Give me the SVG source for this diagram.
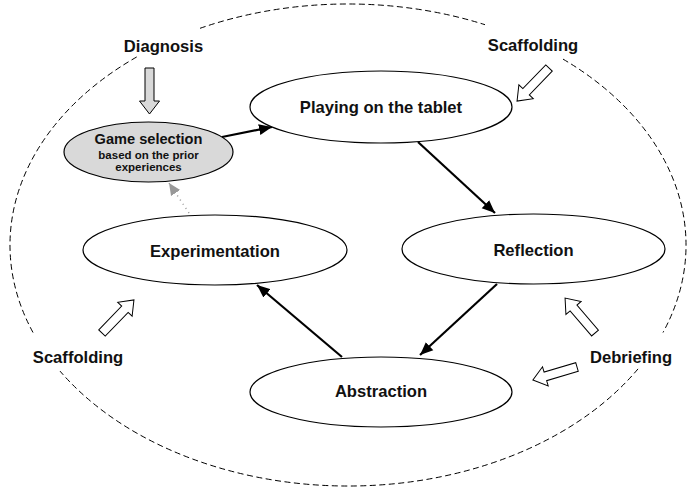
<svg xmlns="http://www.w3.org/2000/svg" xmlns:xlink="http://www.w3.org/1999/xlink" width="688" height="487" viewBox="0 0 688 487">
<style>
  .node { fill: #ffffff; stroke: #000000; stroke-width: 1.2; }
  .grey { fill: #d9d9d9; }
  .t { font-family: "Liberation Sans", Arial, Helvetica, sans-serif; font-weight: bold; fill: #111111; text-anchor: middle; }
  .big { font-size: 16.6px; }
  .lbl { font-size: 16.6px; }
  .conn { stroke: #000000; stroke-width: 2.2; fill: none; marker-end: url(#ah); }
  .dot { stroke: #999999; stroke-width: 1.5; fill: none; stroke-dasharray: 1 4; marker-end: url(#ahg); }
  .outer { fill: none; stroke: #000000; stroke-width: 1; stroke-dasharray: 6 3.5; }
  .blk { stroke: #000000; stroke-width: 1; stroke-linejoin: miter; }
</style>
<defs>
  <marker id="ah" markerUnits="userSpaceOnUse" markerWidth="14" markerHeight="12" refX="13" refY="6" orient="auto">
    <path d="M0,0.5 L13,6 L0,11.5 Z" fill="#000000"/>
  </marker>
  <marker id="ahg" markerUnits="userSpaceOnUse" markerWidth="14" markerHeight="12" refX="12" refY="6" orient="auto">
    <path d="M0,0.5 L12,6 L0,11.5 Z" fill="#999999"/>
  </marker>
  <path id="barrow" d="M0,-4.5 L33,-4.5 L33,-10 L46,0 L33,10 L33,4.5 L0,4.5 Z"/>
</defs>

<g id="outer-boundary">
  <path class="outer" d="M200,28.3 A338,241 0 0 1 485,24.7"/>
  <path class="outer" d="M563,59.1 A338,241 0 0 1 663,332.5"/>
  <path class="outer" d="M638,368.9 A338,241 0 0 1 60,371.1"/>
  <path class="outer" d="M33,332.5 A338,241 0 0 1 137,56.8"/>
</g>

<g id="connectors">
  <line class="conn" x1="222" y1="137" x2="272" y2="127"/>
  <line class="conn" x1="418" y1="142" x2="495" y2="213"/>
  <line class="conn" x1="497" y1="284" x2="420" y2="355"/>
  <line class="conn" x1="342" y1="357" x2="257" y2="285"/>
  <line class="dot" x1="189" y1="213" x2="169" y2="183"/>
</g>

<g id="node-game-selection">
  <ellipse class="node grey" cx="148.5" cy="152" rx="84.5" ry="30"/>
  <text class="t" x="148.5" y="144" font-size="14.6">Game selection</text>
  <text class="t" x="148.5" y="159" font-size="11.5">based on the prior</text>
  <text class="t" x="148.5" y="171" font-size="11.5">experiences</text>
</g>

<g id="node-playing">
  <ellipse class="node" cx="381" cy="107" rx="131" ry="36"/>
  <text class="t big" x="381" y="113">Playing on the tablet</text>
</g>

<g id="node-reflection">
  <ellipse class="node" cx="533.5" cy="249" rx="131.5" ry="35"/>
  <text class="t big" x="533.5" y="256">Reflection</text>
</g>

<g id="node-abstraction">
  <ellipse class="node" cx="381" cy="392" rx="131" ry="35"/>
  <text class="t big" x="381" y="397">Abstraction</text>
</g>

<g id="node-experimentation">
  <ellipse class="node" cx="215" cy="250" rx="132" ry="35"/>
  <text class="t big" x="215" y="257">Experimentation</text>
</g>

<g id="label-diagnosis">
  <text class="t lbl" x="163.5" y="52">Diagnosis</text>
  <use xlink:href="#barrow" class="blk" fill="#d9d9d9" transform="translate(149.5,68) rotate(90)"/>
</g>

<g id="label-scaffolding-top">
  <text class="t lbl" x="533" y="51">Scaffolding</text>
  <use xlink:href="#barrow" class="blk" fill="#ffffff" transform="translate(549,68) rotate(134)"/>
</g>

<g id="label-scaffolding-left">
  <text class="t lbl" x="78" y="363">Scaffolding</text>
  <use xlink:href="#barrow" class="blk" fill="#ffffff" transform="translate(102,333) rotate(-46)"/>
</g>

<g id="label-debriefing">
  <text class="t lbl" x="631" y="363">Debriefing</text>
  <use xlink:href="#barrow" class="blk" fill="#ffffff" transform="translate(595,333) rotate(-130.6)"/>
  <use xlink:href="#barrow" class="blk" fill="#ffffff" transform="translate(577,367) rotate(163.5)"/>
</g>
</svg>
